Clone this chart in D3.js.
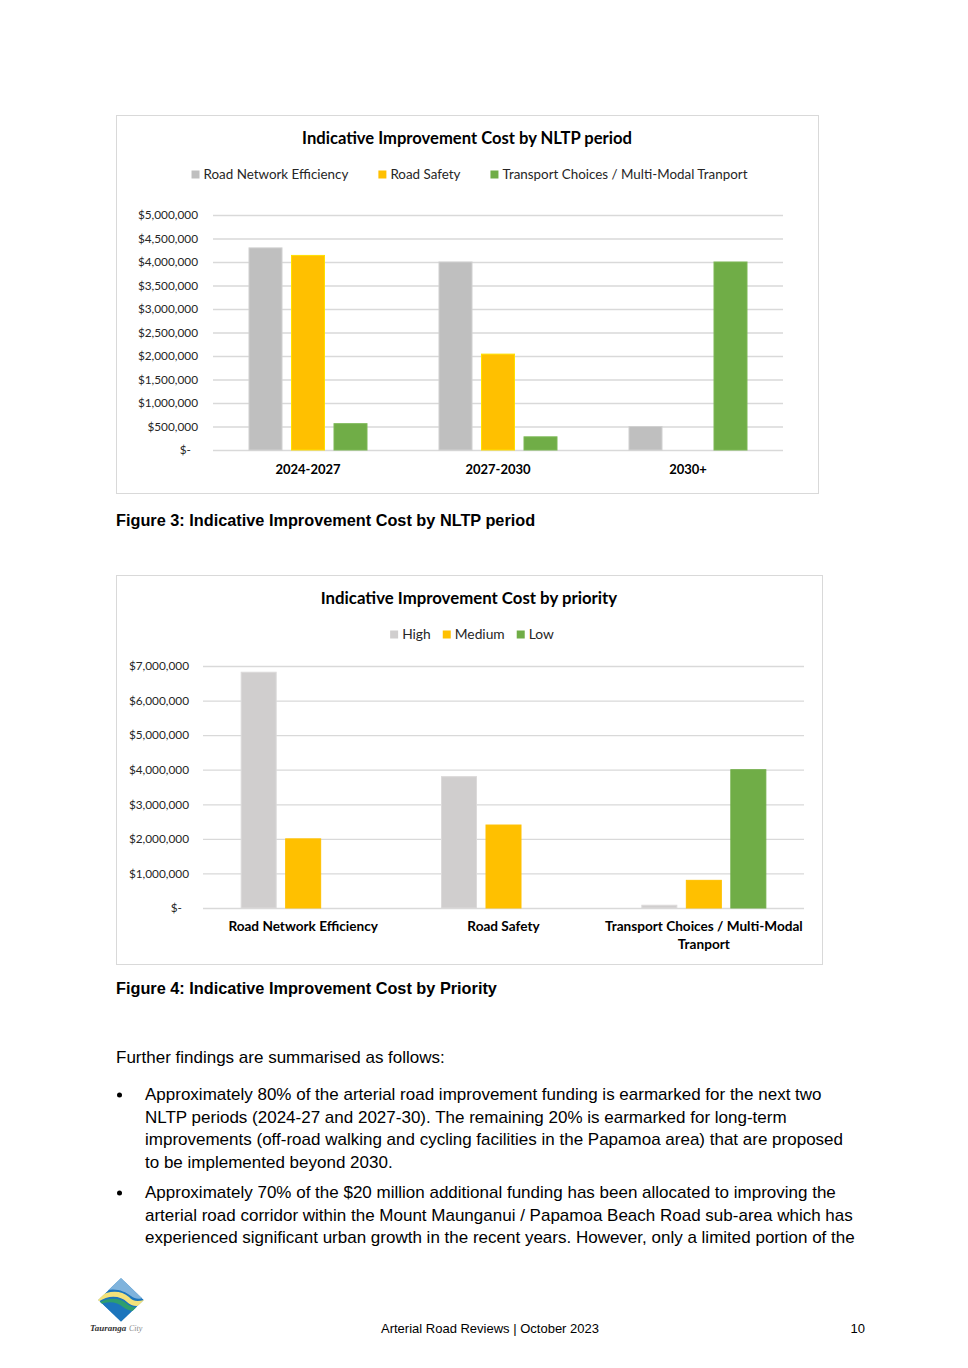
<!DOCTYPE html>
<html><head><meta charset="utf-8">
<script src="https://cdn.jsdelivr.net/npm/d3@7"></script>
<style>
body{margin:0;background:#fff;}
svg{display:block;}
.cf{font-family:Lato,"Open Sans",sans-serif;}
.ar{font-family:"Liberation Sans",Arial,sans-serif;}
</style></head>
<body>
<script>
// ---------- Data ----------
const periods = ["2024-2027", "2027-2030", "2030+"];
const periodSeries = ["Road Network Efficiency", "Road Safety", "Transport Choices / Multi-Modal Tranport"];
const roadNetworkEfficiency = [4300000, 4000000, 500000];
const roadSafety = [4140000, 2040000, 0];
const transportChoices = [560000, 280000, 4000000];
const periodTicks = [0, 500000, 1000000, 1500000, 2000000, 2500000, 3000000, 3500000, 4000000, 4500000, 5000000];

const priorityCategories = ["Road Network Efficiency", "Road Safety", "Transport Choices / Multi-Modal Tranport"];
const prioritySeries = ["High", "Medium", "Low"];
const highValues = [6820000, 3800000, 80000];
const mediumValues = [2000000, 2400000, 800000];
const lowValues = [0, 0, 4000000];
const priorityTicks = [0, 1000000, 2000000, 3000000, 4000000, 5000000, 6000000, 7000000];

const title1 = "Indicative Improvement Cost by NLTP period";
const title2 = "Indicative Improvement Cost by priority";
const caption1 = "Figure 3: Indicative Improvement Cost by NLTP period";
const caption2 = "Figure 4: Indicative Improvement Cost by Priority";
const intro = "Further findings are summarised as follows:";
const bullet1 = ["Approximately 80% of the arterial road improvement funding is earmarked for the next two",
  "NLTP periods (2024-27 and 2027-30). The remaining 20% is earmarked for long-term",
  "improvements (off-road walking and cycling facilities in the Papamoa area) that are proposed",
  "to be implemented beyond 2030."];
const bullet2 = ["Approximately 70% of the $20 million additional funding has been allocated to improving the",
  "arterial road corridor within the Mount Maunganui / Papamoa Beach Road sub-area which has",
  "experienced significant urban growth in the recent years. However, only a limited portion of the"];
const footerText = "Arterial Road Reviews | October 2023";
const pageNumber = "10";

// ---------- Setup ----------
const W = 968, H = 1368;
const svg = d3.select("body").append("svg").attr("width", W).attr("height", H);
svg.append("rect").attr("width", W).attr("height", H).attr("fill", "#fff");

const money = v => v === 0 ? "$-" : d3.format("$,")(v);

function drawChart(cfg) {
  const g = svg.append("g").attr("class", "cf");
  g.append("rect").attr("x", cfg.box[0] + 0.5).attr("y", cfg.box[1] + 0.5)
    .attr("width", cfg.box[2] - cfg.box[0]).attr("height", cfg.box[3] - cfg.box[1])
    .attr("fill", "#fff").attr("stroke", "#D9D9D9").attr("stroke-width", 1);
  g.append("text").attr("x", cfg.titleX).attr("y", cfg.titleY).attr("text-anchor", "middle")
    .attr("font-size", cfg.titleSize).attr("font-weight", "bold").attr("fill", "#000").text(cfg.title);

  // legend
  const leg = g.append("g");
  let lx = 0;
  cfg.series.forEach((s, i) => {
    const it = leg.append("g").attr("transform", `translate(${lx},0)`);
    it.append("rect").attr("x", 0).attr("y", -8.5).attr("width", 8).attr("height", 8).attr("fill", cfg.colors[i]);
    const t = it.append("text").attr("x", 12).attr("y", 0).attr("font-size", cfg.legendSize).attr("fill", "#262626").text(s);
    lx += 12 + t.node().getComputedTextLength() + cfg.legendGap;
  });
  const legW = lx - cfg.legendGap;
  leg.attr("transform", `translate(${cfg.legendCX - legW / 2},${cfg.legendY})`);

  const x0 = d3.scaleBand().domain(cfg.categories).range([cfg.plot[0], cfg.plot[2]]).paddingInner(0).paddingOuter(0);
  const y = d3.scaleLinear().domain([0, cfg.ticks[cfg.ticks.length - 1]]).range([cfg.plot[3], cfg.plot[1]]);

  const ax = g.append("g").attr("transform", `translate(${cfg.plot[0]},0)`)
    .call(d3.axisLeft(y).tickValues(cfg.ticks).tickFormat(money).tickSize(-(cfg.plot[2] - cfg.plot[0])).tickPadding(cfg.tickPad));
  ax.select(".domain").remove();
  ax.selectAll("line").attr("stroke", "#D9D9D9").attr("stroke-width", 1.3);
  ax.selectAll("text").attr("font-family", "Lato, 'Open Sans', sans-serif").attr("font-size", cfg.tickSize).attr("fill", "#262626");
  ax.selectAll(".tick").filter(d => d === 0).select("text").attr("dx", -7);

  // bars
  const step = cfg.barStep, bw = cfg.barW;
  cfg.values.forEach((vals, si) => {
    g.append("g").selectAll("rect").data(vals.map((v, ci) => ({v, c: cfg.categories[ci]}))).join("rect")
      .filter(d => d.v > 0)
      .attr("x", d => x0(d.c) + x0.bandwidth() / 2 + (si - 1) * step - bw / 2)
      .attr("y", d => y(d.v))
      .attr("width", bw)
      .attr("height", d => y(0) - y(d.v))
      .attr("fill", cfg.colors[si])
      .attr("stroke", cfg.strokes[si]).attr("stroke-width", 1);
  });

  // x labels
  cfg.categories.forEach(c => {
    const t = g.append("text").attr("x", x0(c) + x0.bandwidth() / 2).attr("y", cfg.xLabelY)
      .attr("text-anchor", "middle").attr("font-size", cfg.xSize).attr("font-weight", "bold").attr("fill", "#000");
    const words = c.split(" ");
    let line = [];
    let ts = t.append("tspan").attr("x", x0(c) + x0.bandwidth() / 2).attr("dy", 0);
    words.forEach(w => {
      line.push(w);
      ts.text(line.join(" "));
      if (ts.node().getComputedTextLength() > cfg.wrapW && line.length > 1) {
        line.pop(); ts.text(line.join(" "));
        line = [w];
        ts = t.append("tspan").attr("x", x0(c) + x0.bandwidth() / 2).attr("dy", cfg.xLine).text(w);
      }
    });
  });
}

drawChart({
  box: [116, 115, 818, 493], title: title1, titleX: 467, titleY: 144, titleSize: 16.6,
  series: periodSeries, colors: ["#BFBFBF", "#FFC000", "#70AD47"], strokes: ["#D0D0D0", "#FFE000", "#7CB855"],
  legendCX: 469.5, legendY: 179, legendSize: 13.4, legendGap: 30,
  categories: periods, plot: [213, 215, 783, 450], ticks: periodTicks, tickPad: 15, tickSize: 11.8,
  values: [roadNetworkEfficiency, roadSafety, transportChoices], barStep: 42.5, barW: 33,
  xLabelY: 474, xSize: 13, wrapW: 220, xLine: 18
});

drawChart({
  box: [116, 575, 822, 964], title: title2, titleX: 469, titleY: 604, titleSize: 16.8,
  series: prioritySeries, colors: ["#D0CECE", "#FFC000", "#70AD47"], strokes: ["#DCDADA", "#FFC000", "#70AD47"],
  legendCX: 472, legendY: 639, legendSize: 13.8, legendGap: 12,
  categories: priorityCategories, plot: [203, 666, 804, 908], ticks: priorityTicks, tickPad: 14, tickSize: 11.8,
  values: [highValues, mediumValues, lowValues], barStep: 44.5, barW: 35,
  xLabelY: 931, xSize: 13.6, wrapW: 210, xLine: 18
});

// ---------- Captions and body ----------
const tg = svg.append("g").attr("class", "ar").attr("fill", "#000");
tg.append("text").attr("x", 116).attr("y", 526).attr("font-size", 16.3).attr("font-weight", "bold").text(caption1);
tg.append("text").attr("x", 116).attr("y", 994).attr("font-size", 16.3).attr("font-weight", "bold").text(caption2);
tg.append("text").attr("x", 116).attr("y", 1063).attr("font-size", 17).text(intro);

function bullet(lines, y0) {
  tg.append("circle").attr("cx", 119.5).attr("cy", y0 - 5).attr("r", 2.5).attr("fill", "#000");
  lines.forEach((l, i) => tg.append("text").attr("x", 145).attr("y", y0 + i * 22.5).attr("font-size", 17).text(l));
}
bullet(bullet1, 1100);
bullet(bullet2, 1198);

tg.append("text").attr("x", 490).attr("y", 1333).attr("text-anchor", "middle").attr("font-size", 13).text(footerText);
tg.append("text").attr("x", 865).attr("y", 1333).attr("text-anchor", "end").attr("font-size", 13).text(pageNumber);

// ---------- Logo ----------
const lg = svg.append("g").attr("transform", "translate(121,1300)");
const clip = svg.append("defs").append("clipPath").attr("id", "dia");
clip.append("path").attr("d", "M0,-22 L23,0 L0,22 L-23,0 Z");
const lc = lg.append("g").attr("clip-path", "url(#dia)");
lc.append("path").attr("d", "M0,-22 L23,0 L0,22 L-23,0 Z").attr("fill", "#1C75BC");
lc.append("path").attr("d", "M-23,-6 C-10,-14 2,-10 10,-4 C16,1 22,-2 26,-4 L26,-30 L-23,-30 Z").attr("fill", "#7FB3DC");
lc.append("path").attr("d", "M-23,2 C-12,-6 0,-4 6,2 C12,8 20,6 26,3 L26,-1 C18,2 12,2 8,-3 C0,-10 -12,-10 -23,-3 Z").attr("fill", "#F3E27A");
lc.append("path").attr("d", "M-23,6 C-14,0 -4,2 2,7 C8,12 18,12 26,8 L26,5 C18,9 10,8 5,3 C-3,-3 -13,-2 -23,3 Z").attr("fill", "#2E9E6E");
lg.append("text").attr("x", -31).attr("y", 31).attr("font-family", "'Liberation Serif',serif").attr("font-style", "italic")
  .attr("font-weight", "bold").attr("font-size", 9).attr("fill", "#333").text("Tauranga");
lg.append("text").attr("x", 8).attr("y", 31).attr("font-family", "'Liberation Serif',serif").attr("font-style", "italic")
  .attr("font-size", 8).attr("fill", "#888").text("City");
</script>
</body></html>
